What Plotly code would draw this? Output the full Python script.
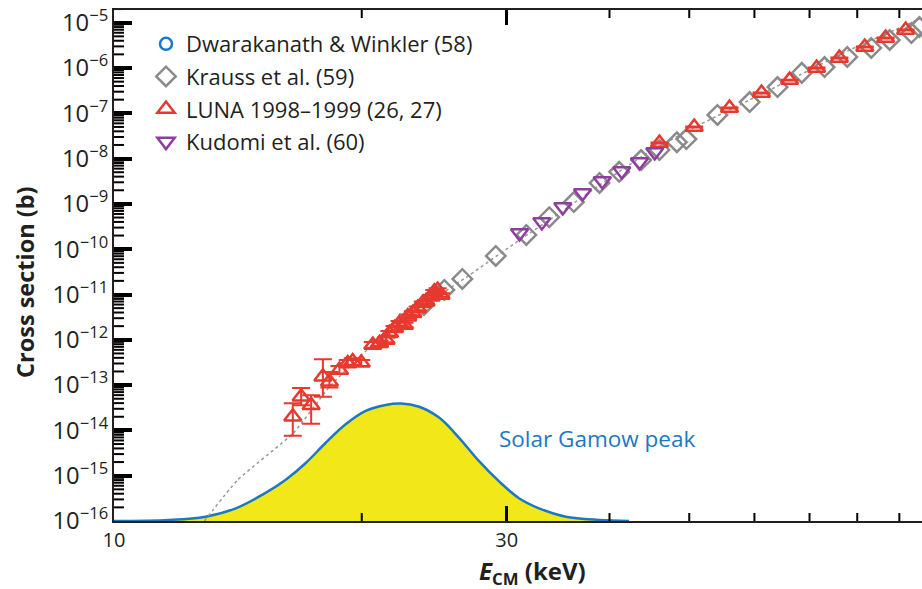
import plotly.graph_objects as go

# ---------------- data ----------------
# Dwarakanath & Winkler (58) -- outside the visible energy window
dw_E = [110.0, 140.0, 180.0]
dw_sigma = [1.6e-5, 3.2e-5, 6.0e-5]

# Krauss et al. (59)
kr_E = [23.8, 25.2, 26.5, 29.1, 31.7, 33.8, 36.2, 38.9, 41.1, 43.7, 46.0, 48.3, 49.6,
        54.1, 59.2, 64.0, 68.5, 73.0, 77.8, 83.2, 87.6, 93.1, 95.2]
kr_sigma = [5.9e-12, 1.26e-11, 2.2e-11, 7.1e-11, 2.06e-10, 5.1e-10, 1.10e-9, 2.9e-9, 5.1e-9,
            9.3e-9, 1.55e-8, 2.3e-8, 2.7e-8, 9.2e-8, 1.77e-7, 3.8e-7, 7.8e-7, 1.05e-6,
            1.75e-6, 2.77e-6, 4.15e-6, 5.9e-6, 8.0e-6]

# LUNA 1998-1999 (26, 27)
luna_E = [16.49, 16.88, 17.36, 17.94, 18.27, 18.79, 19.23, 19.50, 19.97, 20.63, 21.02, 21.41,
          21.61, 21.92, 22.23, 22.54, 22.75, 23.07, 23.39, 23.72, 23.94, 24.28, 24.50, 24.73,
          24.97, 46.0, 50.7, 55.96, 61.2, 66.2, 71.4, 76.1, 81.7, 86.6, 91.6]
luna_sigma = [2.0e-14, 5.5e-14, 3.6e-14, 1.53e-13, 1.19e-13, 2.15e-13, 3.0e-13, 3.3e-13, 3.1e-13,
              7.7e-13, 8.4e-13, 9.9e-13, 1.39e-12, 1.79e-12, 2.31e-12, 2.12e-12, 3.24e-12,
              3.85e-12, 4.95e-12, 6.4e-12, 6.9e-12, 8.9e-12, 1.15e-11, 1.26e-11, 9.75e-12,
              2.21e-8, 5.0e-8, 1.31e-7, 2.81e-7, 5.4e-7, 1.0e-6, 1.66e-6, 2.91e-6, 4.6e-6, 6.9e-6]
luna_err_plus = [2.0e-14, 3.1e-14, 2.4e-14, 2.2e-13, 7.6e-14, 5.0e-14, 6.0e-14, 6.0e-14, 5.0e-14,
                 1.2e-13, 1.2e-13, 1.3e-13, 1.8e-13, 2.2e-13, 2.8e-13, 2.5e-13, 3.6e-13,
                 4.0e-13, 5.0e-13, 6.4e-13, 6.5e-13, 8.5e-13, 1.1e-12, 1.2e-12, 9.5e-13,
                 6.0e-10, 1.3e-9, 3.4e-9, 7.0e-9, 1.3e-8, 2.4e-8, 4.0e-8, 7.0e-8, 1.1e-7, 1.6e-7]
luna_err_minus = [1.24e-14, 1.9e-14, 2.2e-14, 9.8e-14, 3.0e-14, 4.0e-14, 5.0e-14, 5.0e-14, 4.5e-14,
                  1.0e-13, 1.0e-13, 1.1e-13, 1.5e-13, 1.9e-13, 2.4e-13, 2.2e-13, 3.1e-13,
                  3.5e-13, 4.4e-13, 5.6e-13, 5.8e-13, 7.5e-13, 9.8e-13, 1.05e-12, 8.5e-13,
                  6.0e-10, 1.3e-9, 3.4e-9, 7.0e-9, 1.3e-8, 2.4e-8, 4.0e-8, 7.0e-8, 1.1e-7, 1.6e-7]

# Kudomi et al. (60)
ku_E = [31.1, 33.1, 35.1, 37.1, 39.2, 41.4, 43.5, 45.4]
ku_sigma = [2.28e-10, 3.98e-10, 8.55e-10, 1.74e-9, 3.21e-9, 5.32e-9, 8.41e-9, 1.40e-8]

# fitted cross-section curve (dotted)
fit_E = [12.88, 14.13, 16.52, 18.27, 19.98, 22.23, 24.86, 27.04, 31.1, 34.8, 38.9, 44.7,
         51.4, 59.2, 68.1, 78.3, 90.0, 95.8]
fit_sigma = [1.0e-16, 8.0e-16, 8.8e-15, 9.1e-14, 4.6e-13, 2.47e-12, 9.75e-12, 2.69e-11, 1.6e-10,
             6.3e-10, 2.61e-9, 1.4e-8, 5.52e-8, 1.97e-7, 7.0e-7, 2.49e-6, 7.64e-6, 1.27e-5]

# solar Gamow peak (arbitrary units)
gamow_E = [10.0, 11.66, 12.92, 14.06, 15.14, 16.17, 17.10, 18.08, 19.12, 20.22, 21.39, 22.31,
           23.48, 24.83, 26.26, 27.77, 29.37, 31.05, 32.84, 35.39, 38.85, 42.25]
gamow_w = [0.0, 0.009, 0.037, 0.108, 0.223, 0.352, 0.494, 0.666, 0.823, 0.937, 0.988, 1.0,
           0.972, 0.880, 0.708, 0.509, 0.337, 0.194, 0.108, 0.037, 0.009, 0.0]

x_tick_vals = [10, 30]
x_tick_text = ["10", "30"]
x_minor_vals = [20, 40, 50, 60, 70, 80, 90]
y_decades = list(range(-16, -4))
y_minor_vals = [m * 10.0 ** d for d in y_decades for m in range(2, 10)]

# ---------------- styling ----------------
FONT = "Open Sans"
INK = "#231f20"
TICK = "#000000"
RED = "#e8392f"
GRAY = "#8a8a8a"
PURPLE = "#8e3f9e"
BLUE = "#1b78c2"
YELLOW = "#f2e819"

W, H = 922, 589
L, R, T, B = 114, 0, 10, 68
plot_h = H - T - B
plot_w = W - L - R
px_per_dec_y = 45.3
px_per_dec_x = 823.0
x_range = [1, 1 + plot_w / px_per_dec_x]
y_range = [-16, -16 + plot_h / px_per_dec_y]

fig = go.Figure()

# Gamow peak on the linear (hidden) base axis
fig.add_trace(go.Scatter(
    x=gamow_E, y=gamow_w, mode="lines", fill="tozeroy", fillcolor=YELLOW,
    line=dict(color=BLUE, width=2.5, shape="spline", smoothing=1.0),
    showlegend=False, hoverinfo="skip", xaxis="x", yaxis="y"))

# dotted fit curve
fig.add_trace(go.Scatter(
    x=fit_E, y=fit_sigma, mode="lines",
    line=dict(color="#999999", width=1.5, dash="3px,3px", shape="spline", smoothing=0.5),
    showlegend=False, hoverinfo="skip", xaxis="x", yaxis="y2"))

fig.add_trace(go.Scatter(
    x=dw_E, y=dw_sigma, mode="markers", name="Dwarakanath & Winkler (58)",
    marker=dict(symbol="circle-open", size=12, color=BLUE, line=dict(width=2.5)),
    legendgroup="a", xaxis="x", yaxis="y2"))

fig.add_trace(go.Scatter(
    x=kr_E, y=kr_sigma, mode="markers", name="Krauss et al. (59)",
    marker=dict(symbol="diamond-open", size=15, color=GRAY, line=dict(width=2.5)),
    legendgroup="b", xaxis="x", yaxis="y2"))

fig.add_trace(go.Scatter(
    x=luna_E, y=luna_sigma, mode="markers", name="LUNA 1998–1999 (26, 27)",
    marker=dict(symbol="triangle-up-open", size=15, color=RED, line=dict(width=2.5)),
    error_y=dict(type="data", array=luna_err_plus, arrayminus=luna_err_minus,
                 color=RED, thickness=2, width=9),
    legendgroup="c", xaxis="x", yaxis="y2"))

fig.add_trace(go.Scatter(
    x=ku_E, y=ku_sigma, mode="markers", name="Kudomi et al. (60)",
    marker=dict(symbol="triangle-down-open", size=15, color=PURPLE, line=dict(width=2.5)),
    legendgroup="d", xaxis="x", yaxis="y2"))

fig.update_layout(
    width=W, height=H,
    margin=dict(l=L, r=R, t=T, b=B, pad=0),
    paper_bgcolor="white", plot_bgcolor="white",
    font=dict(family=FONT, color=INK, size=19),
    showlegend=True,
    legend=dict(x=(146 - L) / plot_w, y=1 - (23 - T) / plot_h, xanchor="left", yanchor="top",
                bgcolor="rgba(0,0,0,0)", font=dict(family=FONT, size=22, color=INK),
                tracegroupgap=1, itemsizing="trace"),
    xaxis=dict(type="log", range=x_range,
               tickvals=x_tick_vals, ticktext=x_tick_text,
               ticks="inside", ticklen=15, tickwidth=2.5, tickcolor=TICK,
               showline=True, linewidth=2, linecolor=INK, mirror="ticks",
               showgrid=False, zeroline=False,
               tickfont=dict(size=20, family=FONT, color=INK)),
    yaxis=dict(type="linear", range=[0, plot_h / 117.5], visible=False, fixedrange=True),
    yaxis2=dict(type="log", overlaying="y", side="left", anchor="x",
                range=y_range, dtick=1, exponentformat="power",
                ticks="inside", ticklen=18, tickwidth=3.5, tickcolor=TICK,
                showline=True, linewidth=2, linecolor=INK, mirror=False,
                showgrid=False, zeroline=False,
                tickfont=dict(size=19, family=FONT, color=INK)),
)

# minor tick marks (inside), placed at the minor tick values
tick_shapes = []
for v in y_minor_vals:
    tick_shapes.append(dict(type="line", xref="paper", yref="y2", x0=0, x1=10 / plot_w,
                            y0=v, y1=v, line=dict(color=TICK, width=2), layer="above"))
for m in x_minor_vals:
    tick_shapes.append(dict(type="line", xref="x", yref="paper", x0=m, x1=m,
                            y0=0, y1=8 / plot_h, line=dict(color=TICK, width=2), layer="above"))
    tick_shapes.append(dict(type="line", xref="x", yref="paper", x0=m, x1=m,
                            y0=1, y1=1 - 8 / plot_h, line=dict(color=TICK, width=2), layer="above"))
fig.update_layout(shapes=tick_shapes)

fig.add_annotation(text="<b>Cross section (b)</b>", xref="paper", yref="paper",
                   x=-(L - 25) / plot_w, y=1 - (282 - T) / plot_h, textangle=-90,
                   showarrow=False, font=dict(size=23.5, family=FONT, color=INK),
                   xanchor="center", yanchor="middle")
fig.add_annotation(text="<b><i>E</i><sub>CM</sub> (keV)</b>", xref="paper", yref="paper",
                   x=(532 - L) / plot_w, y=-(572 - (T + plot_h)) / plot_h,
                   showarrow=False, font=dict(size=24, family=FONT, color=INK),
                   xanchor="center", yanchor="middle")
fig.add_annotation(text="Solar Gamow peak", xref="paper", yref="paper",
                   x=(497 - L) / plot_w, y=1 - (438 - T) / plot_h,
                   showarrow=False, font=dict(size=22.5, family=FONT, color=BLUE),
                   xanchor="left", yanchor="middle")

fig.write_html("out.html")
